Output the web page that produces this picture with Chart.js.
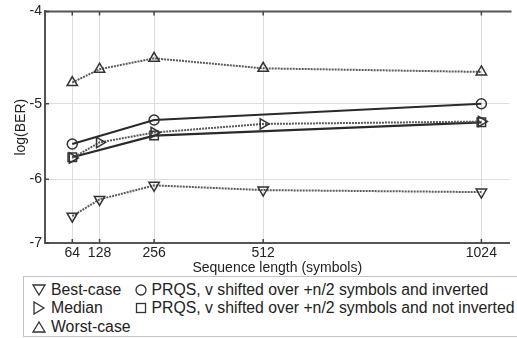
<!DOCTYPE html>
<html><head><meta charset="utf-8">
<script src="https://cdn.jsdelivr.net/npm/chart.js@4"></script>
<style>
html,body{margin:0;padding:0;background:#fff;}
#wrap{position:relative;width:517px;height:338px;overflow:hidden;background:#fff;}
#c{position:absolute;left:0;top:0;}
#legend{position:absolute;left:23px;top:276px;width:520px;height:59px;border:1.5px solid #c4c4c4;background:#fff;font-family:"Liberation Sans",Arial,sans-serif;font-size:15.8px;color:#222;}
#legend span{position:absolute;white-space:nowrap;line-height:18px;}
#legend svg{position:absolute;}
</style></head>
<body><div id="wrap"><canvas id="c" width="517" height="276"></canvas><div id="legend"></div></div>
<script>
// Data (log(BER) values)
const seqLengths = [64, 128, 256, 512, 1024];
const bestCase = [-6.56, -6.30, -6.09, -6.16, -6.19];
const median = [-5.70, -5.49, -5.36, -5.25, -5.22];
const worstCase = [-4.75, -4.60, -4.48, -4.59, -4.63];
const prqsInverted = [-5.51, null, -5.20, null, -5.00];
const prqsNotInverted = [-5.69, null, -5.40, null, -5.23];
const yTicks = [-4, -5, -6, -7];
const seriesNames = ['Best-case', 'Median', 'Worst-case',
  'PRQS, v shifted over +n/2 symbols and inverted',
  'PRQS, v shifted over +n/2 symbols and not inverted'];

const FONT = '"Liberation Sans", Arial, sans-serif';
const toPts = arr => arr.map((v, i) => ({x: seqLengths[i], y: v == null ? null : -v}));

const dotted = {borderColor: '#5a5a5a', borderWidth: 2, borderDash: [2, 1]};
const solid = {borderColor: '#2a2a2a', borderWidth: 2.2};
const mk = {pointBorderColor: '#333', pointBackgroundColor: 'rgba(255,255,255,0)', pointBorderWidth: 1.5};

const borderPlugin = {
  id: 'frame',
  afterDraw(chart) {
    const {ctx, chartArea: a, scales} = chart;
    ctx.save();
    ctx.strokeStyle = '#555'; ctx.lineWidth = 2;
    ctx.beginPath(); ctx.moveTo(a.left - 1, a.top); ctx.lineTo(a.right + 2, a.top); ctx.stroke();
    ctx.strokeStyle = '#444'; ctx.lineWidth = 1.5;
    ctx.beginPath();
    seqLengths.forEach(v => {
      const px = scales.x.getPixelForValue(v);
      ctx.moveTo(px, a.top); ctx.lineTo(px, a.top + 4);
      ctx.moveTo(px, a.bottom); ctx.lineTo(px, a.bottom - 4);
    });
    yTicks.forEach(v => {
      const py = scales.y.getPixelForValue(-v);
      ctx.moveTo(a.left, py); ctx.lineTo(a.left + 4, py);
    });
    ctx.stroke();
    ctx.restore();
  }
};

new Chart(document.getElementById('c'), {
  type: 'line',
  data: {
    datasets: [
      {label: seriesNames[0], data: toPts(bestCase), ...dotted, ...mk, pointStyle: 'triangle', rotation: 180, pointRadius: 6},
      {label: seriesNames[1], data: toPts(median), ...dotted, ...mk, pointStyle: 'triangle', rotation: 90, pointRadius: 6},
      {label: seriesNames[2], data: toPts(worstCase), ...dotted, ...mk, pointStyle: 'triangle', rotation: 0, pointRadius: 6},
      {label: seriesNames[3], data: toPts(prqsInverted), ...solid, ...mk, pointStyle: 'circle', pointRadius: 5, spanGaps: true},
      {label: seriesNames[4], data: toPts(prqsNotInverted), ...solid, ...mk, pointStyle: 'rect', pointRadius: 6, spanGaps: true}
    ]
  },
  options: {
    responsive: false,
    animation: false,
    events: [],
    layout: {padding: {left: 0, top: 11, right: 0, bottom: 0}},
    elements: {line: {tension: 0}},
    plugins: {legend: {display: false}, tooltip: {enabled: false}},
    scales: {
      x: {
        type: 'linear', min: 0, max: 1090,
        afterBuildTicks: s => { s.ticks = seqLengths.map(v => ({value: v})); },
        afterFit: s => { s.height = 33; },
        ticks: {autoSkip: false, maxRotation: 0, padding: 2, color: '#222', font: {family: FONT, size: 14}, callback: v => String(v)},
        grid: {color: '#dedede', lineWidth: 1, drawTicks: false},
        border: {color: '#555', width: 2},
        title: {display: true, text: 'Sequence length (symbols)', color: '#222', font: {family: FONT, size: 14}, padding: {top: 0, bottom: -1}}
      },
      y: {
        type: 'logarithmic', min: 4, max: 7, reverse: true,
        afterBuildTicks: s => { s.ticks = yTicks.map(v => ({value: -v})); },
        afterFit: s => { s.width = 45; },
        ticks: {padding: 3, color: '#222', font: {family: FONT, size: 14}, callback: v => String(-v)},
        grid: {color: '#dedede', lineWidth: 1, drawTicks: false},
        border: {color: '#555', width: 2},
        title: {display: true, text: 'log(BER)', color: '#222', font: {family: FONT, size: 14}, padding: {top: 13, bottom: 0}}
      }
    }
  },
  plugins: [borderPlugin]
});

// HTML legend (two columns, column-major like the reference)
const legendItems = [
  {name: seriesNames[0], shape: 'down', col: 0, row: 0},
  {name: seriesNames[1], shape: 'right', col: 0, row: 1},
  {name: seriesNames[2], shape: 'up', col: 0, row: 2},
  {name: seriesNames[3], shape: 'circle', col: 1, row: 0},
  {name: seriesNames[4], shape: 'square', col: 1, row: 1}
];
const colSym = [14.5, 116.5], colText = [27, 127.5], rowMid = [12.5, 31, 49.5];
const shapes = {
  down: '<polygon points="1,2 13,2 7,12" />',
  right: '<polygon points="2,1 2,13 12,7" />',
  up: '<polygon points="1,12 13,12 7,2" />',
  circle: '<circle cx="7" cy="7" r="5" />',
  square: '<rect x="2.5" y="2.5" width="9" height="9" />'
};
const lg = document.getElementById('legend');
legendItems.forEach(it => {
  const svg = document.createElementNS('http://www.w3.org/2000/svg', 'svg');
  svg.setAttribute('width', '14'); svg.setAttribute('height', '14');
  svg.style.left = (colSym[it.col] - 7) + 'px';
  svg.style.top = (rowMid[it.row] - 7) + 'px';
  svg.innerHTML = '<g fill="none" stroke="#333" stroke-width="1.3">' + shapes[it.shape] + '</g>';
  lg.appendChild(svg);
  const sp = document.createElement('span');
  sp.textContent = it.name;
  sp.style.left = colText[it.col] + 'px';
  sp.style.top = (rowMid[it.row] - 9) + 'px';
  lg.appendChild(sp);
});
</script>
</body></html>
